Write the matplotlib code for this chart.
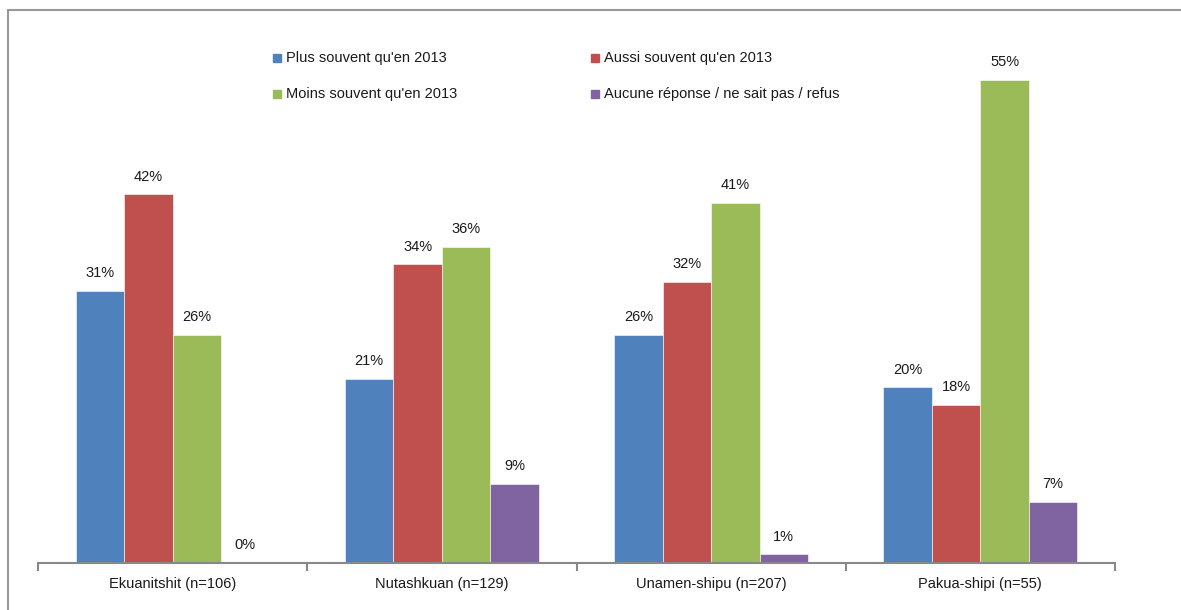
import matplotlib
matplotlib.use("Agg")
import matplotlib.pyplot as plt
from matplotlib import font_manager
from matplotlib.patches import Rectangle
import numpy as np

categories = ["Ekuanitshit (n=106)", "Nutashkuan (n=129)", "Unamen-shipu (n=207)", "Pakua-shipi (n=55)"]
series = ["Plus souvent qu'en 2013", "Aussi souvent qu'en 2013",
          "Moins souvent qu'en 2013", "Aucune réponse / ne sait pas / refus"]
plus = [31, 21, 26, 20]
aussi = [42, 34, 32, 18]
moins = [26, 36, 41, 55]
aucune = [0, 9, 1, 7]
colors = ["#4F81BD", "#C0504D", "#9BBB59", "#8064A2"]

names = {f.name for f in font_manager.fontManager.ttflist}
fam = "Liberation Sans Narrow" if "Liberation Sans Narrow" in names else "Liberation Sans"
plt.rcParams["font.family"] = [fam, "DejaVu Sans"]
fs = 10.5

W, H = 1181, 610
fig = plt.figure(figsize=(W / 100, H / 100), dpi=100)
ax = fig.add_axes([38 / W, (H - 563) / H, (1115 - 38) / W, (563 - 36) / H])

data = [plus, aussi, moins, aucune]
n = len(categories)
x = np.arange(n)
bw = 0.18
for i, (vals, c) in enumerate(zip(data, colors)):
    pos = x + (i - 1.5) * bw
    ax.bar(pos, vals, width=bw, color=c, edgecolor="white", linewidth=0.4, zorder=2)
    for p, v in zip(pos, vals):
        ax.text(p, v + 1.2, f"{v}%", ha="center", va="bottom", fontsize=fs, color="#1a1a1a")

ax.set_xlim(-0.5, n - 0.5)
ax.set_ylim(0, 60)
for s in ["top", "right", "left"]:
    ax.spines[s].set_visible(False)
ax.spines["bottom"].set_color("#888888")
ax.spines["bottom"].set_linewidth(1.5)
ax.set_yticks([])
ax.set_xticks(x)
ax.set_xticklabels(categories, fontsize=fs, color="#1a1a1a")
ax.tick_params(axis="x", which="major", length=0, pad=10)
ax.set_xticks(np.arange(n + 1) - 0.5, minor=True)
ax.tick_params(axis="x", which="minor", length=6, width=1.5, color="#888888", direction="out")

# legend drawn manually in figure pixels
leg_pos = [(277, 58), (595, 58), (277, 94), (595, 94)]
for (px, py), lab, c in zip(leg_pos, series, colors):
    fig.patches.append(Rectangle(((px - 4) / W, (H - py - 4) / H), 8 / W, 8 / H,
                                 transform=fig.transFigure, color=c, figure=fig))
    fig.text((px + 9) / W, (H - py) / H, lab, ha="left", va="center", fontsize=fs, color="#1a1a1a")

# outer border (left and top visible)
fig.patches.append(Rectangle((8 / W, -0.1), 1.2, (H - 10) / H + 0.1, transform=fig.transFigure,
                             fill=False, edgecolor="#999999", linewidth=1.5, figure=fig))

fig.savefig("out.png", dpi=100)
